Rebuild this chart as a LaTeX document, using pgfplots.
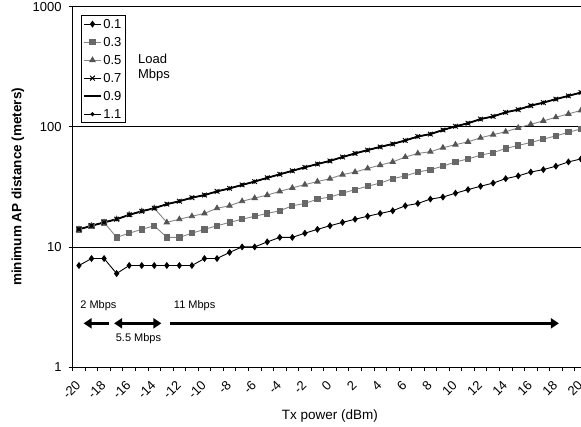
\documentclass[border=0pt]{standalone}
\usepackage{pgfplots}
\usepackage{pgfplotstable}
\pgfplotsset{compat=1.18}
\usepackage{fontspec}
\setmainfont{Liberation Sans}
\usetikzlibrary{arrows.meta}

\definecolor{lgray}{HTML}{858585}
\definecolor{sqgray}{HTML}{686868}
\definecolor{trgray}{HTML}{555555}

\pgfplotstableread{
P   v01 v03 v05  vtop
-20 7   14  14   14
-19 8   15  15   15
-18 8   16  16   16
-17 6   12  17   17
-16 7   13  18.5 18.5
-15 7   14  19.8 19.8
-14 7   15  21   21
-13 7   12  16   22.7
-12 7   12  17   24
-11 7   13  18   25.7
-10 8   14  19   27
-9  8   15  21   29
-8  9   16  22   30.7
-7  10  17  24   32.8
-6  10  18  25.5 35
-5  11  19  27   37.6
-4  12  20  29   40.2
-3  12  22  31   43
-2  13  23  33   46
-1  14  25  35   49
0   15  26  37   52
1   16  28  40   56
2   17  30  42   60
3   18  32  45   64
4   19  34  48   68
5   20  37  51   72
6   22  39  56   77
7   23  42  60   83
8   25  44  62   87
9   26  47  67   94
10  28  51  71   101
11  30  54  75   107
12  32  58  81   116
13  34  61  86   122
14  37  66  91   132
15  39  70  98   139
16  42  74  105  150
17  44  79  112  159
18  47  84  120  170
19  51  90  128  181
20  54  96  137  193
}\datatable

\begin{document}
\begin{tikzpicture}
\begin{axis}[
  scale only axis,
  width=514.55bp, height=360.3bp,
  xmin=-20.5, xmax=20.5,
  ymode=log, ymin=1, ymax=1000,
  axis x line*=bottom, axis y line*=left,
  axis line style={black, line width=0.8bp},
  tick align=outside,
  xtick={-20,-18,...,20},
  xticklabels={-20,-18,-16,-14,-12,-10,-8,-6,-4,-2,0,2,4,6,8,10,12,14,16,18,20},
  minor xtick={-20.5,-19.5,...,20.5},
  major x tick style={draw=none},
  minor x tick style={black, line width=0.8bp},
  minor tick length=4bp,
  major tick length=4bp,
  ytick={1,10,100,1000},
  yticklabels={1,10,100,1000},
  yminorticks=false,
  y tick style={black, line width=0.8bp},
  ymajorgrids=true,
  major grid style={black, line width=0.8bp},
  tick label style={font=\fontsize{13bp}{15bp}\selectfont},
  xticklabel style={yshift=-11bp, rotate=45, anchor=east, inner sep=1bp},
  yticklabel style={anchor=east, inner sep=0pt, xshift=-7bp},
  xlabel={Tx power (dBm)},
  ylabel={\bfseries minimum AP distance (meters)},
  label style={font=\fontsize{13.5bp}{16bp}\selectfont},
  xlabel style={at={(axis description cs:0.5,-0.136)}, anchor=center},
  ylabel style={at={(axis description cs:-0.1063,0.5)}, anchor=center},
  legend style={at={(axis description cs:0.0155,0.977)}, anchor=north west,
    draw=black, line width=0.8bp, font=\fontsize{13bp}{15bp}\selectfont,
    inner xsep=2bp, inner ysep=4bp, row sep=8.5bp,
    nodes={inner xsep=1.5bp, inner ysep=0pt, text height=9.5bp, text depth=0pt}},
  legend cell align=left,
]
\addplot[black, line width=0.9bp, mark=diamond*, mark size=2.8bp, mark options={solid}]
  table[x=P, y=v01] {\datatable};
\addlegendentry{0.1}
\addplot[lgray, line width=0.9bp, mark=square*, mark size=2.6bp, mark options={sqgray, solid}]
  table[x=P, y=v03] {\datatable};
\addlegendentry{0.3}
\addplot[lgray, line width=0.9bp, mark=triangle*, mark size=3bp, mark options={trgray, solid}]
  table[x=P, y=v05] {\datatable};
\addlegendentry{0.5}
\addplot[black, line width=0.9bp, mark=x, mark size=3.3bp, mark options={solid, line width=0.9bp}]
  table[x=P, y=vtop] {\datatable};
\addlegendentry{0.7}
\addplot[black, line width=1.8bp, no markers]
  table[x=P, y=vtop] {\datatable};
\addlegendentry{0.9}
\addplot[black, line width=0.9bp, mark=*, mark size=1.5bp, mark options={solid}]
  table[x=P, y=vtop] {\datatable};
\addlegendentry{1.1}

\node[anchor=base west, inner sep=0pt, font=\fontsize{13bp}{15bp}\selectfont] at (axis cs:-15.3,339.6) {Load};
\node[anchor=base west, inner sep=0pt, font=\fontsize{13bp}{15bp}\selectfont] at (axis cs:-15.3,254.6) {Mbps};

\node[font=\fontsize{11bp}{13bp}\selectfont] at (axis cs:-18.45,3.22) {2 Mbps};
\node[font=\fontsize{11bp}{13bp}\selectfont] at (axis cs:-10.78,3.22) {11 Mbps};
\node[font=\fontsize{11bp}{13bp}\selectfont] at (axis cs:-15.26,1.71) {5.5 Mbps};

\draw[black, line width=3bp, -{Triangle[length=8bp,width=10bp]}] (axis cs:-17.6,2.31) -- (axis cs:-19.63,2.31);
\draw[black, line width=3bp, {Triangle[length=8bp,width=10bp]}-{Triangle[length=8bp,width=10bp]}] (axis cs:-17.2,2.31) -- (axis cs:-13.43,2.31);
\draw[black, line width=3bp, -{Triangle[length=8bp,width=10bp]}] (axis cs:-12.72,2.31) -- (axis cs:18.24,2.31);
\end{axis}
\pgfresetboundingbox
\path[use as bounding box] (-72.7bp,-60bp) rectangle (508.3bp,367bp);
\end{tikzpicture}
\end{document}
